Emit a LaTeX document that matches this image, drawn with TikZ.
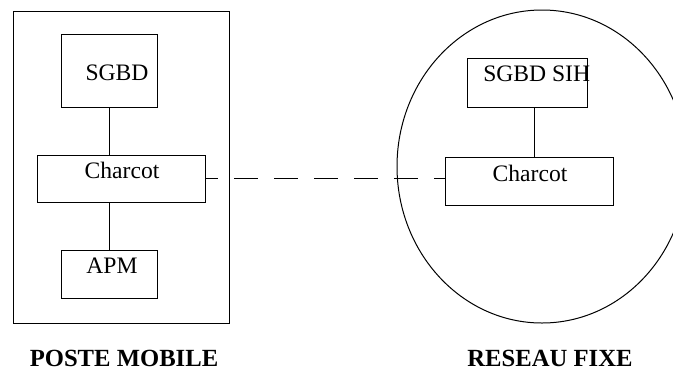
\documentclass[tikz,border=0pt]{standalone}
\usepackage{fontspec}
\setmainfont{Liberation Serif}
\usetikzlibrary{shapes.geometric}
\begin{document}
\begin{tikzpicture}[x=0.75pt,y=-0.75pt,
  box/.style={draw,line width=0.75pt,inner sep=0pt,anchor=north west},
  lbl/.style={inner sep=0pt,font=\fontsize{17.7}{20}\selectfont},
  title/.style={inner sep=0pt,font=\fontsize{18.5}{21}\selectfont\bfseries},
  link/.style={line width=0.75pt},
  dlink/.style={line width=0.75pt,dash pattern=on 18pt off 12pt,dash phase=9pt}]
\useasboundingbox (0,0) rectangle (673,372);
\clip (0,0) rectangle (673,372);
% left side
\node[box,minimum width=216*0.75pt,minimum height=312*0.75pt] (poste) at (13,11) {};
\node[box,minimum width=96*0.75pt,minimum height=73*0.75pt] (sgbd) at (61,34) {};
\node[box,minimum width=168*0.75pt,minimum height=47*0.75pt] (charA) at (37,155) {};
\node[box,minimum width=96*0.75pt,minimum height=48*0.75pt] (apm) at (61,250) {};
\node[lbl] (tsgbd) at (117,73) {SGBD};
\node[lbl] (tcharA) at (122,170) {Charcot};
\node[lbl] (tapm) at (112,266) {APM};
\draw[link] (sgbd.south) -- (sgbd.south |- charA.north);
\draw[link] (apm.north |- charA.south) -- (apm.north);
\node[title] (tposte) at (124,358) {POSTE MOBILE};
% right side
\node[draw,line width=0.75pt,ellipse,minimum width=290*0.75pt,minimum height=313*0.75pt,inner sep=0pt] (reseau) at (542,166.5) {};
\node[box,minimum width=120*0.75pt,minimum height=49*0.75pt] (sih) at (467,58) {};
\node[box,minimum width=168*0.75pt,minimum height=48*0.75pt] (charB) at (445,157) {};
\node[lbl,anchor=west] (tsih) at (483,74) {SGBD SIH};
\node[lbl] (tcharB) at (530,173) {Charcot};
\draw[link] ([xshift=5.25pt]sih.south) -- ([xshift=5.25pt]sih.south |- charB.north);
\node[title] (treseau) at (550,358) {RESEAU FIXE};
% dashed connection
\coordinate (dA) at ([yshift=0.4pt]charA.east);
\draw[dlink] (dA) -- (dA -| charB.west);
\end{tikzpicture}
\end{document}
